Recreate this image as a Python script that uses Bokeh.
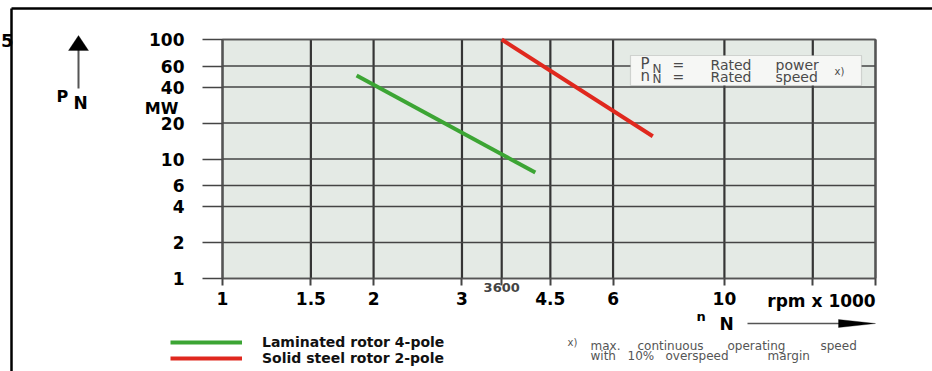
import math

from bokeh.plotting import figure
from bokeh.models import (FixedTicker, Label, Legend, LegendItem, PolyAnnotation,
                          BoxAnnotation, Arrow, LogAxis)
from bokeh.embed import file_html
from bokeh.resources import INLINE

# Rated power (MW) against rated speed (rpm x 1000) for two rotor designs
laminated_speed = [1.85, 4.2]
laminated_power = [50, 7.7]
solid_speed = [3.6, 7.2]
solid_power = [100, 15.5]

series_names = ["Laminated rotor 4-pole", "Solid steel rotor 2-pole"]

x_ticks = [1, 1.5, 2, 3, 3.6, 4.5, 6, 10, 15, 20]
x_tick_labels = ["1", "1.5", "2", "3", "", "4.5", "6", "10", "", ""]
y_ticks = [1, 2, 4, 6, 10, 20, 40, 60, 100]
y_tick_labels = ["1", "2", "4", "6", "10", "20", "40", "60", "100"]
speed_limits = [1, 20]
power_limits = [1, 100]
sync_speed = 3.6
sync_label = "3600"

# page geometry (pixels) and the chart box inside it
W, H = 932, 371
LEFT, RIGHT, TOP, BOTTOM = 222, 875, 39, 278

# extend the log ranges so that the chart box lands on the pixel box above
_xd = (RIGHT - LEFT) / math.log10(speed_limits[1] / speed_limits[0])
_yd = (BOTTOM - TOP) / math.log10(power_limits[1] / power_limits[0])
x_range = (speed_limits[0] * 10 ** (-LEFT / _xd), speed_limits[1] * 10 ** ((W - RIGHT) / _xd))
y_range = (power_limits[0] * 10 ** (-(H - BOTTOM) / _yd), power_limits[1] * 10 ** (TOP / _yd))

BOLD = "DejaVu Sans"
THIN = "DejaVu Sans"

p = figure(width=W, height=H, x_axis_type="log", y_axis_type="log",
           x_range=x_range, y_range=y_range,
           x_axis_location=None, y_axis_location=None,
           output_backend="svg", toolbar_location=None,
           min_border=0)
p.grid.visible = False
p.outline_line_color = None
p.background_fill_color = "white"
p.border_fill_color = "white"

# chart box
p.quad(left=[speed_limits[0]], right=[speed_limits[1]],
       bottom=[power_limits[0]], top=[power_limits[1]],
       fill_color="#e4eae5", line_color=None)

# grid
p.segment(x0=x_ticks, y0=[power_limits[0]] * len(x_ticks),
          x1=x_ticks, y1=[power_limits[1]] * len(x_ticks),
          line_color="#353535", line_width=2.2)
p.segment(x0=[speed_limits[0]] * len(y_ticks), y0=y_ticks,
          x1=[speed_limits[1]] * len(y_ticks), y1=y_ticks,
          line_color="#444444", line_width=1.4)
p.quad(left=[speed_limits[0]], right=[speed_limits[1]],
       bottom=[power_limits[0]], top=[power_limits[1]],
       fill_alpha=0, line_color="#555555", line_width=1.5)

xaxis = LogAxis(ticker=FixedTicker(ticks=x_ticks), fixed_location=power_limits[0],
                major_label_overrides=dict(zip(x_ticks, x_tick_labels)))
yaxis = LogAxis(ticker=FixedTicker(ticks=y_ticks), fixed_location=speed_limits[0],
                major_label_overrides=dict(zip(y_ticks, y_tick_labels)))
p.add_layout(xaxis, "below")
p.add_layout(yaxis, "left")

for ax in (xaxis, yaxis):
    ax.axis_line_color = None
    ax.minor_tick_line_color = None
    ax.major_tick_in = 0
    ax.major_tick_line_color = "#444444"
    ax.major_label_text_font = BOLD
    ax.major_label_text_font_style = "bold"
    ax.major_label_text_color = "black"

xaxis.major_tick_out = 7
xaxis.major_tick_line_width = 2
xaxis.major_label_text_font_size = "17px"
xaxis.major_label_standoff = 6
yaxis.major_tick_out = 20
yaxis.major_tick_line_width = 1.4
yaxis.major_label_text_font_size = "17px"
yaxis.major_label_standoff = 18

g = p.line(laminated_speed, laminated_power, line_color="#3ca534", line_width=4)
r = p.line(solid_speed, solid_power, line_color="#e0281e", line_width=4)

# one legend per row, so the two rows can sit as close as in print
for name, rend, row_mid in [(series_names[0], g, 342), (series_names[1], r, 358)]:
    p.add_layout(Legend(items=[LegendItem(label=name, renderers=[rend])],
                        location=(170, H - row_mid - 8),
                        glyph_width=72, glyph_height=16, label_height=16,
                        spacing=0, padding=0, margin=0, label_standoff=20,
                        border_line_color=None, background_fill_alpha=0,
                        label_text_font=BOLD, label_text_font_style="bold",
                        label_text_font_size="14px", label_text_color="#111111"))


def sx(px):
    return px


def sy(py):
    return H - py


def text(x, y, t, size, bold=False, color="black", align="left"):
    p.add_layout(Label(x=sx(x), y=sy(y), x_units="screen", y_units="screen", text=t,
                       text_font=BOLD if bold else THIN,
                       text_font_style="bold" if bold else "normal",
                       text_font_size=f"{size}px", text_color=color,
                       text_align=align, text_baseline="middle"))


def poly(pts, color):
    p.add_layout(PolyAnnotation(xs=[sx(a) for a, _ in pts], ys=[sy(b) for _, b in pts],
                                xs_units="screen", ys_units="screen",
                                fill_color=color, fill_alpha=1, line_color=color,
                                line_width=1))


def seg(x0, y0, x1, y1, color, width):
    p.add_layout(Arrow(x_start=sx(x0), y_start=sy(y0), x_end=sx(x1), y_end=sy(y1),
                       start_units="screen", end_units="screen", start=None, end=None,
                       line_color=color, line_width=width))


# synchronous speed mark under the axis
p.add_layout(Label(x=sync_speed, y=sy(287), x_units="data", y_units="screen",
                   text=sync_label, text_font=BOLD, text_font_style="bold",
                   text_font_size="13px", text_align="center", text_baseline="middle"))

# axis captions
text(161, 108, "MW", 16, bold=True, align="center")
text(821, 300, "rpm x 1000", 17, bold=True, align="center")

# P_N with upward arrow
seg(78, 88, 78, 48, "#555555", 2)
poly([(78, 35), (68, 50), (88, 50)], "black")
text(56, 96, "P", 16, bold=True)
text(73, 102, "N", 17, bold=True)

# n_N with arrow to the right
text(696, 316, "n", 13, bold=True)
text(719, 323, "N", 17, bold=True)
seg(747, 323, 842, 323, "#555555", 1.5)
poly([(875, 323), (838, 319), (838, 327)], "black")

# symbol key box
p.add_layout(BoxAnnotation(left=sx(630), right=sx(861), top=sy(55), bottom=sy(85),
                           left_units="screen", right_units="screen",
                           top_units="screen", bottom_units="screen",
                           fill_color="#f6f7f5", fill_alpha=1,
                           line_color="#8c8c8c", line_width=1.2))
KEY = "#4a4a4a"
text(640, 63, "P", 15, color=KEY)
text(652, 68, "N", 12, color=KEY)
text(672, 64, "=", 14, color=KEY)
text(710, 64, "Rated", 14, color=KEY)
text(775, 64, "power", 14, color=KEY)
text(640, 75, "n", 15, color=KEY)
text(652, 78, "N", 12, color=KEY)
text(672, 76, "=", 14, color=KEY)
text(710, 76, "Rated", 14, color=KEY)
text(775, 76, "speed", 14, color=KEY)
text(834, 71, "x)", 10, color=KEY)

# footnote
NOTE = "#555555"
text(567, 342, "x)", 10, color=NOTE)
for x0, word in [(590, "max."), (637, "continuous"), (727, "operating"), (820, "speed")]:
    text(x0, 345, word, 12, color=NOTE)
for x0, word in [(590, "with"), (627, "10%"), (665, "overspeed"), (767, "margin")]:
    text(x0, 355, word, 12, color=NOTE)

# page frame
text(13, 40, "5", 18, bold=True, align="right")
seg(11, 8, W + 5, 8, "black", 2.5)
seg(11, 8, 11, H + 5, "black", 2.5)

open("out.html", "w").write(file_html(p, INLINE))
